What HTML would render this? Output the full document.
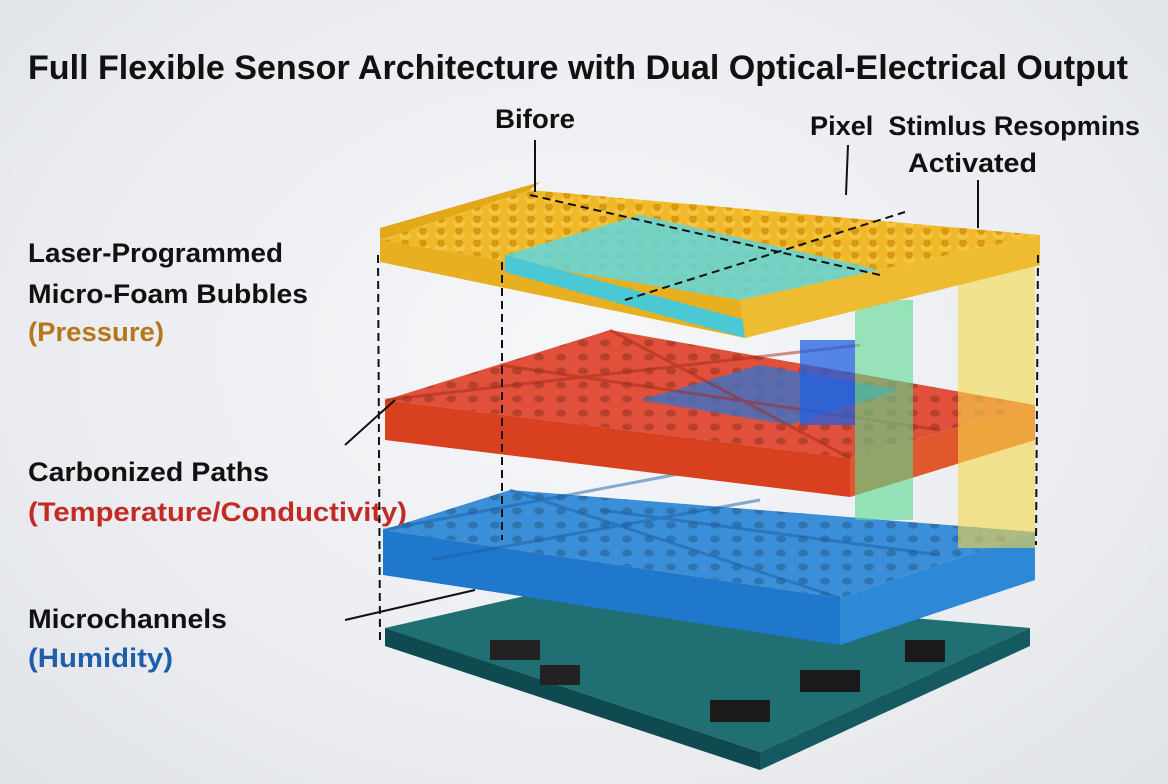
<!DOCTYPE html>
<html><head><meta charset="utf-8"><style>
html,body{margin:0;padding:0;}
body{width:1168px;height:784px;overflow:hidden;background:radial-gradient(ellipse at 50% 45%,#f6f7f9 0%,#e9ebef 70%,#dfe2e7 100%);}
svg{position:absolute;left:0;top:0;}
text{font-family:"Liberation Sans",sans-serif;font-weight:bold;}
</style></head><body>
<svg width="1168" height="784" viewBox="0 0 1168 784">
<defs>
<pattern id="dots" width="22" height="14" patternUnits="userSpaceOnUse"><ellipse cx="11" cy="7" rx="5" ry="3.5" fill="#00000030"/></pattern>
<pattern id="bumps" width="18" height="12" patternUnits="userSpaceOnUse"><ellipse cx="9" cy="7" rx="6" ry="4" fill="#f5c542"/><ellipse cx="9" cy="3" rx="4" ry="4" fill="#d89a10"/></pattern>
</defs>
<text x="28" y="79" font-size="34" fill="#111" textLength="1100" lengthAdjust="spacingAndGlyphs">Full Flexible Sensor Architecture with Dual Optical-Electrical Output</text>
<text x="495" y="128" font-size="27" fill="#111" textLength="80" lengthAdjust="spacingAndGlyphs">Bifore</text>
<text x="810" y="135" font-size="27" fill="#111" textLength="330" lengthAdjust="spacingAndGlyphs">Pixel&#160;&#160;Stimlus Resopmins</text>
<text x="908" y="172" font-size="27" fill="#111" textLength="129" lengthAdjust="spacingAndGlyphs">Activated</text>
<text x="28" y="262" font-size="27" fill="#111" textLength="255" lengthAdjust="spacingAndGlyphs">Laser-Programmed</text>
<text x="28" y="303" font-size="27" fill="#111" textLength="280" lengthAdjust="spacingAndGlyphs">Micro-Foam Bubbles</text>
<text x="28" y="341" font-size="27" fill="#b7761a" textLength="136" lengthAdjust="spacingAndGlyphs">(Pressure)</text>
<text x="28" y="481" font-size="27" fill="#111" textLength="241" lengthAdjust="spacingAndGlyphs">Carbonized Paths</text>
<text x="28" y="521" font-size="27" fill="#c42a24" textLength="379" lengthAdjust="spacingAndGlyphs">(Temperature/Conductivity)</text>
<text x="28" y="628" font-size="27" fill="#111" textLength="199" lengthAdjust="spacingAndGlyphs">Microchannels</text>
<text x="28" y="667" font-size="27" fill="#1f5ea8" textLength="145" lengthAdjust="spacingAndGlyphs">(Humidity)</text>

<!-- PCB -->
<polygon points="385,628 560,588 1030,628 760,752" fill="#1f6f73"/>
<polygon points="385,628 760,752 760,770 385,646" fill="#0f4a50"/>
<polygon points="760,752 1030,628 1030,646 760,770" fill="#145a60"/>
<rect x="490" y="640" width="50" height="20" fill="#222"/><rect x="540" y="665" width="40" height="20" fill="#222"/>
<rect x="710" y="700" width="60" height="22" fill="#1a1a1a"/><rect x="800" y="670" width="60" height="22" fill="#1a1a1a"/>
<rect x="905" y="640" width="40" height="22" fill="#1a1a1a"/>

<!-- Blue layer -->
<polygon points="383,530 510,490 1035,532 840,598" fill="#3b8fd8"/>
<polygon points="383,530 510,490 1035,532 840,598" fill="url(#dots)"/>
<polygon points="383,530 840,598 840,645 383,575" fill="#1f78cc"/>
<polygon points="840,598 1035,532 1035,580 840,645" fill="#2d88d6"/>
<path d="M510,490 L840,598 M383,530 L700,470 M600,510 L940,555 M430,560 L760,500" stroke="#1860a8" stroke-width="3" opacity=".5"/>

<!-- Red layer -->
<polygon points="385,400 610,330 1035,405 850,458" fill="#e0503a"/>
<polygon points="385,400 610,330 1035,405 850,458" fill="url(#dots)"/>
<polygon points="385,400 850,458 850,497 385,440" fill="#d8401f"/>
<polygon points="850,458 1035,405 1035,440 850,497" fill="#e0582e"/>
<polygon points="640,400 760,365 900,390 790,425" fill="#3b72c8" opacity=".8"/>
<path d="M610,330 L850,458 M385,400 L860,345 M500,365 L940,430" stroke="#a82a18" stroke-width="3" opacity=".5"/>

<!-- vertical bars -->
<rect x="800" y="340" width="55" height="85" fill="#2060e0" opacity=".75"/>
<rect x="855" y="300" width="58" height="220" fill="#5cd890" opacity=".6"/>
<rect x="958" y="258" width="77" height="290" fill="#f7d84a" opacity=".6"/>

<!-- Top yellow layer -->
<polygon points="380,240 530,190 1040,235 740,300" fill="#f0b92a"/>
<polygon points="380,240 530,190 1040,235 740,300" fill="url(#bumps)"/>
<polygon points="505,255 640,215 880,270 745,320" fill="#5fd6de" opacity=".85"/>
<polygon points="380,240 740,300 745,338 380,262" fill="#e8b020"/>
<polygon points="505,255 745,320 745,338 505,272" fill="#4ac8d4"/>
<polygon points="740,300 1040,235 1040,265 745,338" fill="#eebc30"/>
<polygon points="380,240 530,190 540,182 380,228" fill="#e2a818"/>

<!-- dashed lines -->
<g stroke="#111" stroke-width="2" stroke-dasharray="8,5" fill="none">
<line x1="378" y1="255" x2="380" y2="640"/>
<line x1="502" y1="262" x2="502" y2="540"/>
<line x1="1038" y1="255" x2="1036" y2="545"/>
<line x1="530" y1="195" x2="880" y2="275"/>
<line x1="625" y1="300" x2="905" y2="212"/>
</g>
<g stroke="#111" stroke-width="2" fill="none">
<line x1="535" y1="140" x2="535" y2="192"/>
<line x1="848" y1="145" x2="846" y2="195"/>
<line x1="978" y1="180" x2="978" y2="228"/>
<line x1="345" y1="445" x2="395" y2="400"/>
<line x1="345" y1="620" x2="475" y2="590"/>
</g>
</svg>
</body></html>
